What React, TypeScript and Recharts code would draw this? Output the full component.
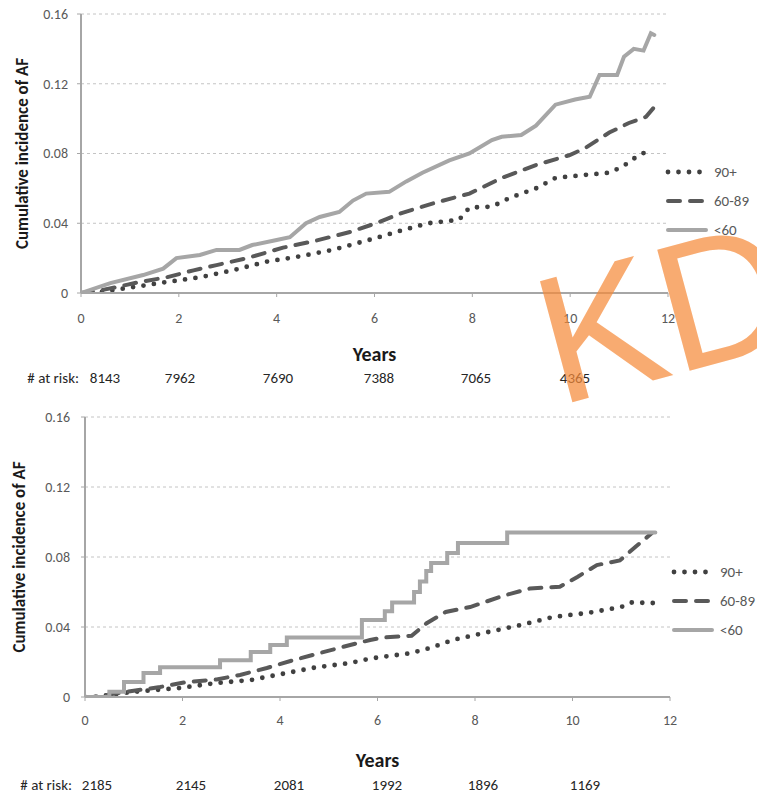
import { LineChart, Line, XAxis, YAxis, CartesianGrid } from "recharts";

const FONT = "Carlito, Lato, 'Open Sans', sans-serif";

// Full cohort: cumulative incidence of AF by age group (years, value)
const topYearsUnder60 = [0, 0.6, 1.27, 1.68, 1.95, 2.43, 2.77, 3.24, 3.5, 4.0, 4.27, 4.6, 4.88, 5.28, 5.56, 5.83, 6.3, 6.65, 6.98, 7.53, 7.94, 8.4, 8.6, 9.0, 9.3, 9.7, 10.1, 10.4, 10.6, 10.96, 11.1, 11.3, 11.5, 11.65, 11.72];
const topUnder60 = [0, 0.0057, 0.0103, 0.014, 0.02, 0.0218, 0.0247, 0.0247, 0.0275, 0.0304, 0.032, 0.04, 0.0436, 0.0465, 0.053, 0.057, 0.058, 0.064, 0.069, 0.076, 0.08, 0.0877, 0.0896, 0.0906, 0.096, 0.108, 0.111, 0.1125, 0.125, 0.125, 0.1355, 0.14, 0.139, 0.149, 0.148];
const topYears60to89 = [0, 0.3, 0.73, 1.2, 1.75, 2.3, 2.77, 3.4, 4.13, 4.8, 5.5, 6.03, 6.57, 7.27, 7.94, 8.6, 9.3, 9.98, 10.3, 10.8, 11.2, 11.55, 11.7];
const top60to89 = [0, 0.001, 0.0034, 0.0063, 0.009, 0.013, 0.016, 0.02, 0.026, 0.03, 0.035, 0.04, 0.046, 0.052, 0.057, 0.066, 0.0734, 0.079, 0.083, 0.092, 0.0975, 0.101, 0.106];
const topYears90plus = [0, 0.4, 1.07, 1.75, 2.43, 3.1, 3.8, 4.47, 5.14, 5.83, 6.04, 6.57, 7.1, 7.73, 7.94, 8.4, 8.76, 9.3, 9.7, 10.3, 10.8, 11.07, 11.35, 11.68];
const top90plus = [0, 0.0005, 0.0034, 0.0063, 0.009, 0.013, 0.018, 0.021, 0.0247, 0.03, 0.0316, 0.036, 0.04, 0.042, 0.049, 0.0495, 0.0545, 0.06, 0.066, 0.0677, 0.069, 0.0725, 0.078, 0.083];

// Subgroup cohort
const bottomYearsUnder60 = [0, 0.5, 0.8, 1.2, 1.54, 2.77, 3.4, 3.8, 4.14, 5.68, 6.15, 6.3, 6.75, 6.87, 7.0, 7.1, 7.43, 7.65, 8.66, 11.7];
const bottomUnder60 = [0, 0.003, 0.0086, 0.0137, 0.017, 0.021, 0.0257, 0.0297, 0.034, 0.044, 0.049, 0.054, 0.06, 0.066, 0.072, 0.0766, 0.0823, 0.088, 0.094, 0.094];
const bottomYears60to89 = [0, 0.17, 0.86, 1.54, 2.09, 2.7, 3.18, 3.73, 4.27, 4.8, 5.44, 5.85, 6.1, 6.7, 7.0, 7.4, 7.9, 8.6, 9.13, 9.74, 10.1, 10.5, 10.97, 11.3, 11.63];
const bottom60to89 = [0, 0, 0.003, 0.0057, 0.0086, 0.01, 0.0126, 0.0166, 0.021, 0.025, 0.0297, 0.0326, 0.034, 0.035, 0.042, 0.0486, 0.0514, 0.058, 0.062, 0.063, 0.0686, 0.0754, 0.078, 0.086, 0.0937];
const bottomYears90plus = [0, 0.2, 1.0, 1.9, 2.7, 3.4, 3.93, 4.75, 5.44, 5.85, 6.67, 7.08, 7.55, 8.25, 8.92, 9.6, 10.3, 11.0, 11.2, 11.65];
const bottom90plus = [0, 0, 0.003, 0.005, 0.008, 0.0097, 0.0126, 0.017, 0.0194, 0.022, 0.025, 0.028, 0.0326, 0.037, 0.041, 0.0457, 0.048, 0.0514, 0.054, 0.0537];

const xTicks = [0, 2, 4, 6, 8, 10, 12];
const yTicks = [0, 0.04, 0.08, 0.12, 0.16];
const topAtRisk = [8143, 7962, 7690, 7388, 7065, 4365];
const bottomAtRisk = [2185, 2145, 2081, 1992, 1896, 1169];

type Pt = { year: number; value: number };
const zip = (xs: number[], ys: number[]): Pt[] => xs.map((year, i) => ({ year, value: ys[i] }));

const lineStyle: Record<string, any> = {
  "90+": { stroke: "#404040", strokeWidth: 4.8, strokeDasharray: "0 10.5", strokeLinecap: "round" },
  "60-89": { stroke: "#595959", strokeWidth: 4, strokeDasharray: "12 10", strokeLinecap: "round" },
  "<60": { stroke: "#a6a6a6", strokeWidth: 4, strokeLinecap: "round" },
};
const legendOrder = ["90+", "60-89", "<60"];

type Series = { name: string; data: Pt[]; step?: boolean };

type PanelProps = {
  top: number;
  height: number;
  margin: { top: number; right: number; bottom: number; left: number };
  yAxisWidth: number;
  xAxisHeight: number;
  xTickMargin: number;
  yTickMargin: number;
  yearsOffset: number;
  titleOffset: number;
  series: Series[];
  legendX: [number, number];
  atRisk: number[];
  atRiskX: number[];
  atRiskLabelX: number;
  atRiskY: number;
};

function Panel(p: PanelProps) {
  const tickStyle = { fill: "#595959", fontSize: 14, fontFamily: FONT };
  return (
    <div style={{ position: "absolute", left: 0, top: p.top, width: 757, height: p.height }}>
      <LineChart width={757} height={p.height} margin={p.margin}>
        <CartesianGrid vertical={false} stroke="#c4c4c4" strokeDasharray="3 3" />
        <XAxis
          type="number"
          dataKey="year"
          domain={[0, 12]}
          ticks={xTicks}
          allowDataOverflow
          height={p.xAxisHeight}
          axisLine={{ stroke: "#a6a6a6", strokeWidth: 2 }}
          tickLine={{ stroke: "#a6a6a6" }}
          tickSize={4}
          tickMargin={p.xTickMargin}
          tick={tickStyle}
          label={{
            value: "Years",
            position: "insideBottom",
            offset: p.yearsOffset,
            fill: "#1a1a1a",
            fontSize: 20,
            fontWeight: 700,
            fontFamily: FONT,
          }}
        />
        <YAxis
          type="number"
          domain={[0, 0.16]}
          ticks={yTicks}
          allowDataOverflow
          width={p.yAxisWidth}
          axisLine={{ stroke: "#a6a6a6", strokeWidth: 2 }}
          tickLine={{ stroke: "#a6a6a6" }}
          tickSize={4}
          tickMargin={p.yTickMargin}
          tick={tickStyle}
          tickFormatter={(v: number) => (v === 0 ? "0" : v.toFixed(2))}
          label={{
            value: "Cumulative incidence of AF",
            angle: -90,
            position: "insideLeft",
            offset: p.titleOffset,
            fill: "#1a1a1a",
            fontSize: 17,
            fontWeight: 700,
            fontFamily: FONT,
            style: { textAnchor: "middle" },
          }}
        />
        {p.series.map((s) => (
          <Line
            key={s.name}
            name={s.name}
            data={s.data}
            dataKey="value"
            type={s.step ? "stepAfter" : "linear"}
            dot={false}
            activeDot={false}
            isAnimationActive={false}
            {...lineStyle[s.name]}
          />
        ))}
      </LineChart>
      <svg
        width={757}
        height={p.height}
        style={{ position: "absolute", left: 0, top: 0, overflow: "visible", pointerEvents: "none" }}
      >
        {legendOrder.map((name, i) => {
          const y = 172 + i * 29;
          return (
            <g key={name}>
              <line x1={p.legendX[0] + 2} x2={p.legendX[1] - 4} y1={y} y2={y} {...lineStyle[name]} />
              <text x={p.legendX[1] + 4} y={y} dy="0.35em" fill="#595959" fontSize={15} fontFamily={FONT}>
                {name}
              </text>
            </g>
          );
        })}
        <text x={p.atRiskLabelX} y={p.atRiskY} dy="0.35em" textAnchor="end" fill="#262626" fontSize={15} fontFamily={FONT}>
          # at risk:
        </text>
        {p.atRisk.map((n, i) => (
          <text key={i} x={p.atRiskX[i]} y={p.atRiskY} dy="0.35em" textAnchor="middle" fill="#262626" fontSize={15} fontFamily={FONT}>
            {n}
          </text>
        ))}
      </svg>
    </div>
  );
}

export default function App() {
  return (
    <div style={{ position: "absolute", left: 0, top: 0, width: 757, height: 795, overflow: "hidden", background: "#fff" }}>
      <Panel
        top={0}
        height={370}
        margin={{ top: 14, right: 89, bottom: 0, left: 5 }}
        yAxisWidth={76}
        xAxisHeight={77}
        xTickMargin={16}
        yTickMargin={9}
        yearsOffset={9}
        titleOffset={17}
        series={[
          { name: "90+", data: zip(topYears90plus, top90plus) },
          { name: "60-89", data: zip(topYears60to89, top60to89) },
          { name: "<60", data: zip(topYearsUnder60, topUnder60) },
        ]}
        legendX={[666, 710]}
        atRisk={topAtRisk}
        atRiskX={[105, 180, 278, 379, 476, 575]}
        atRiskLabelX={79}
        atRiskY={378}
      />
      <Panel
        top={400}
        height={375}
        margin={{ top: 17, right: 87, bottom: 0, left: 5 }}
        yAxisWidth={80}
        xAxisHeight={78}
        xTickMargin={14}
        yTickMargin={11}
        yearsOffset={8}
        titleOffset={14}
        series={[
          { name: "90+", data: zip(bottomYears90plus, bottom90plus) },
          { name: "60-89", data: zip(bottomYears60to89, bottom60to89) },
          { name: "<60", data: zip(bottomYearsUnder60, bottomUnder60), step: true },
        ]}
        legendX={[672, 716]}
        atRisk={bottomAtRisk}
        atRiskX={[97, 191, 289, 387, 483, 585]}
        atRiskLabelX={72}
        atRiskY={385}
      />
      <svg width={757} height={795} style={{ position: "absolute", left: 0, top: 0, pointerEvents: "none" }}>
        <text
          x={558}
          y={406}
          fontSize={182}
          fontFamily="'Liberation Sans', Arial, sans-serif"
          fill="#F58A3A"
          fillOpacity={0.72}
          transform="rotate(-15 558 406)"
        >
          KD
        </text>
      </svg>
    </div>
  );
}
